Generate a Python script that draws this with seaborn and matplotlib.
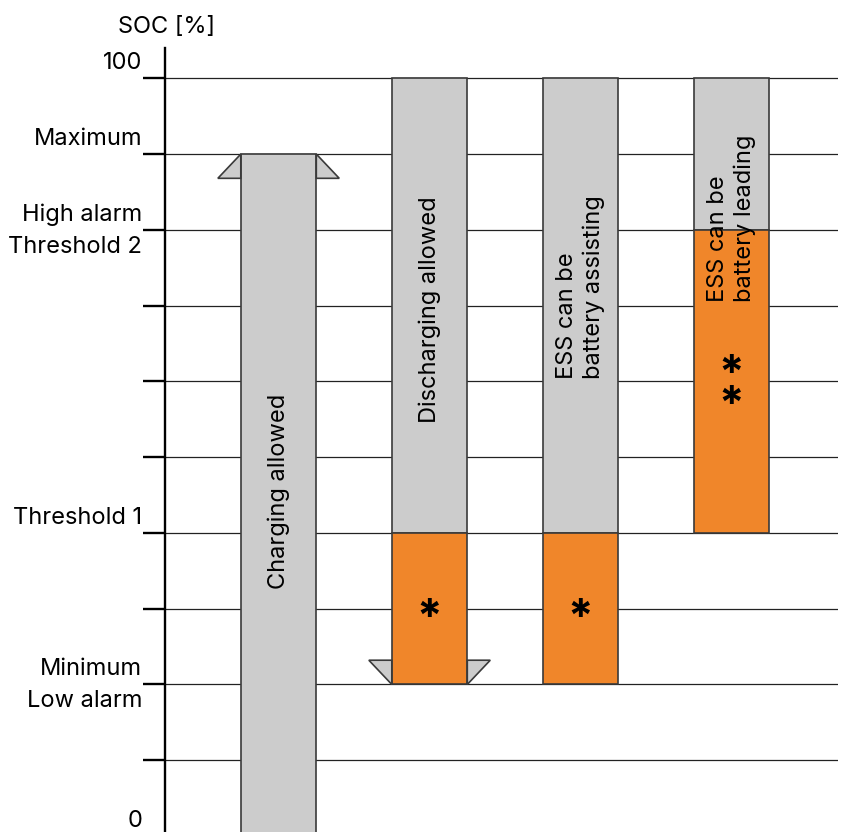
import matplotlib
matplotlib.use("Agg")
import matplotlib.pyplot as plt
from matplotlib.transforms import ScaledTranslation
import pandas as pd
import seaborn as sns

# operating windows per mode, SOC in %
categories = ["Charging allowed", "Discharging allowed",
              "ESS can be\nbattery assisting", "ESS can be\nbattery leading"]
grey_low = [0, 40, 40, 80]
grey_high = [90, 100, 100, 100]
orange_low = [20, 20, 40]
orange_high = [40, 40, 80]
orange_modes = categories[1:]
marks = ["*", "*", "*\n*"]
mark_at = [28.6, 28.6, 58.8]
text_at = [45.5, 69.5, 72.5, 81.5]

tick_values = [0, 10, 20, 30, 40, 50, 60, 70, 80, 90, 100]
tick_labels = ["0", "", "Minimum\nLow alarm", "", "Threshold 1", "", "", "",
               "High alarm\nThreshold 2", "Maximum", "100"]

grey = "#cccccc"
orange = "#f0862a"
edge = "#3a3a3a"

sns.set_style("white")
plt.rcParams["font.family"] = ["Inter", "DejaVu Sans"]
plt.rcParams["text.color"] = "black"
plt.rcParams["ytick.color"] = "black"

fig = plt.figure(figsize=(8.41, 8.32), dpi=100)
ax = fig.add_axes([165 / 841, -4 / 832, (838 - 165) / 841, (832 - 48 + 4) / 832])

grey_df = pd.DataFrame({"mode": categories, "low": grey_low, "high": grey_high})
grey_df["size"] = grey_df["high"] - grey_df["low"]
sns.barplot(data=grey_df, x="mode", y="size", bottom=grey_df["low"].tolist(),
            order=categories, color=grey, edgecolor=edge, linewidth=1.2,
            width=0.5, saturation=1, ax=ax)

orange_df = pd.DataFrame({"mode": orange_modes, "low": orange_low, "high": orange_high})
orange_df["size"] = orange_df["high"] - orange_df["low"]
sns.barplot(data=orange_df, x="mode", y="size", bottom=orange_df["low"].tolist(),
            order=categories, color=orange, edgecolor=edge, linewidth=1.2,
            width=0.5, saturation=1, ax=ax)

# arrow wings: up at top of charging bar, down at bottom of discharging bar
hw, dw, wh = 0.25, 0.152, 3.2
for xc, y, d in [(0, grey_high[0], -1), (1, orange_low[0], 1)]:
    for side in (-1, 1):
        xe = xc + side * hw
        ax.fill([xe, xe + side * dw, xe], [y, y + d * wh, y + d * wh],
                facecolor=grey, edgecolor=edge, linewidth=1.2, zorder=3)

for i, lab in enumerate(categories):
    ax.text(i, text_at[i], lab, rotation=90, ha="center", va="center",
            multialignment="left", fontsize=17, linespacing=1.3, zorder=4)

for m, y, lab in zip(marks, mark_at, orange_modes):
    ax.text(categories.index(lab), y, m, ha="center", va="center",
            fontsize=33, fontweight="bold", linespacing=0.66, zorder=4)

ax.set_yticks(tick_values, tick_labels)
ax.set_ylim(0, 104)
ax.set_xlim(-0.752, 3.705)
ax.set_xticks([])
ax.set_xlabel("")
ax.set_ylabel("")
ax.set_axisbelow(True)
ax.yaxis.grid(True, color="#222222", linewidth=0.9)
ax.tick_params(axis="y", length=15.5, width=1.7, color="black", pad=1,
               labelsize=17, labelcolor="black", left=True)
for s in ["top", "right", "bottom"]:
    ax.spines[s].set_visible(False)
ax.spines["left"].set_linewidth(1.7)
ax.spines["left"].set_color("black")

for t in ax.get_yticklabels():
    if "\n" in t.get_text():
        t.set_linespacing(1.6)
        shift = 5
    else:
        t.set_va("bottom")
        shift = 3
    t.set_transform(t.get_transform() + ScaledTranslation(0, shift / 72, fig.dpi_scale_trans))

fig.text(167 / 841, 1 - 27 / 832, "SOC [%]", ha="center", va="center", fontsize=17)

fig.savefig("out.png", dpi=100)
